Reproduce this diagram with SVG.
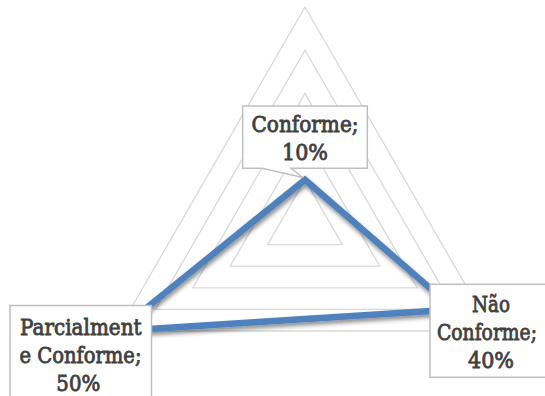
<svg xmlns="http://www.w3.org/2000/svg" width="545" height="396" viewBox="0 0 545 396">
<defs>
<style>
.grid{fill:none;stroke:#d9d9d9;stroke-width:1.3}
.series{fill:none;stroke:#4f81bd;stroke-width:6.5;stroke-linejoin:miter;stroke-miterlimit:10}
.box{fill:#ffffff;stroke:#bfbfbf;stroke-width:1.5}
.lbl{font-family:"DejaVu Serif","Liberation Serif",serif;font-size:22px;fill:#404040;stroke:#404040;stroke-width:0.85;text-anchor:middle}
</style>
<filter id="sh" x="-10%" y="-10%" width="120%" height="130%">
<feDropShadow dx="1" dy="3" stdDeviation="2" flood-color="#000000" flood-opacity="0.45"/>
</filter>
</defs>
<rect width="545" height="396" fill="#ffffff"/>
<g id="grid">
<polygon class="grid" points="305,7 492.1,331 117.9,331"/>
<polygon class="grid" points="305,50.2 454.6,309.4 155.4,309.4"/>
<polygon class="grid" points="305,93.4 417.2,287.8 192.8,287.8"/>
<polygon class="grid" points="305,136.6 379.8,266.2 230.2,266.2"/>
<polygon class="grid" points="305,179.8 342.4,244.6 267.6,244.6"/>
</g>
<g id="connectors">
<polygon class="series" filter="url(#sh)" points="305,179.8 454.6,309.4 117.9,331"/>
</g>
<g id="label-conforme">
<path class="box" d="M242.7,106 H367.3 V168.3 H291 L303,177.5 L262,168.3 H242.7 Z"/>
<text class="lbl" x="305" y="132" textLength="107" lengthAdjust="spacingAndGlyphs">Conforme;</text>
<text class="lbl" x="305" y="160" textLength="46" lengthAdjust="spacingAndGlyphs">10%</text>
</g>
<g id="label-nao-conforme">
<rect class="box" x="430" y="284.3" width="116" height="93"/>
<text class="lbl" x="491" y="311.5" textLength="38" lengthAdjust="spacingAndGlyphs">Não</text>
<text class="lbl" x="487" y="339.5" font-size="20.5" textLength="100" lengthAdjust="spacingAndGlyphs">Conforme;</text>
<text class="lbl" x="491" y="367.5" textLength="46" lengthAdjust="spacingAndGlyphs">40%</text>
</g>
<g id="label-parcialmente">
<rect class="box" x="10" y="305.5" width="141.5" height="100"/>
<text class="lbl" x="80.8" y="335" textLength="121.5" lengthAdjust="spacingAndGlyphs">Parcialment</text>
<text class="lbl" x="80.5" y="363" textLength="122" lengthAdjust="spacingAndGlyphs">e Conforme;</text>
<text class="lbl" x="78.3" y="391" textLength="44" lengthAdjust="spacingAndGlyphs">50%</text>
</g>
</svg>
